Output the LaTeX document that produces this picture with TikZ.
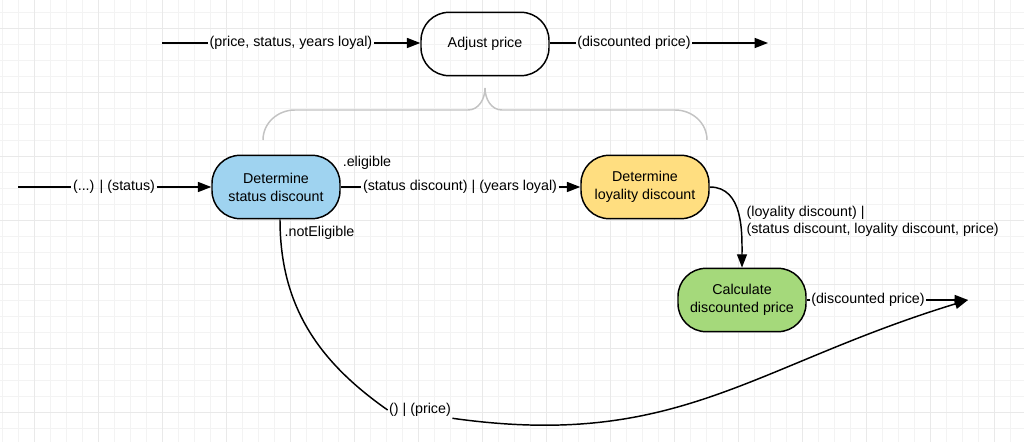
\documentclass[tikz,border=0pt]{standalone}
\usepackage{fontspec}
\setmainfont{Liberation Sans}
\usetikzlibrary{arrows.meta}
\definecolor{statusfill}{HTML}{9FD3F0}
\definecolor{loyalfill}{HTML}{FFDE80}
\definecolor{calcfill}{HTML}{A5D97B}
\definecolor{gridminor}{HTML}{F3F3F3}
\definecolor{gridmajor}{HTML}{E9E9E9}
\definecolor{bracegray}{HTML}{C3C3C3}
\tikzset{
  stepbox/.style={draw, line width=1.1pt, rounded corners=21pt, minimum width=96pt, minimum height=47.5pt, align=center, inner sep=2pt, font=\fontsize{10.7}{13.5}\selectfont},
  flowlabel/.style={inner sep=1pt, font=\fontsize{10.7}{12.8}\selectfont},
  flow/.style={line width=1.1pt},
}
\begin{document}
\begin{tikzpicture}[x=0.75pt,y=0.75pt,>={Triangle[length=10pt,width=7.5pt]}]
	\useasboundingbox (0,0) rectangle (1024,442);
	\fill[white] (0,0) rectangle (1024,442);
	% background grid
	\begin{scope}
		\clip (0,0) rectangle (1024,442);
		\begin{scope}[shift={(34,30)}]
			\draw[gridminor, line width=0.6pt, step=16] (-64,-64) grid (1024,448);
			\draw[gridmajor, line width=0.6pt, step=64] (-64,-64) grid (1024,448);
		\end{scope}
	\end{scope}
	
	% top level
	\node[stepbox] (adjust) at (485,398) {Adjust price};
	\coordinate (topin) at (162,399);
	\node[flowlabel] (toplbl) at (291,399) {(price, status, years loyal)};
	\draw[flow] (topin) -- (toplbl);
	\draw[flow,->] (toplbl) -- (toplbl -| adjust.west);
	\node[flowlabel] (topoutlbl) at (634,399) {(discounted price)};
	\coordinate (topout) at (768,399);
	\draw[flow] (topoutlbl -| adjust.east) -- (topoutlbl);
	\draw[flow,->] (topoutlbl) -- (topout);
	
	% brace
	\draw[bracegray, line width=1.1pt] (263,302) to[out=90,in=180] (295,332) -- (468,332) to[out=0,in=-90] (485,354)
		to[out=-90,in=180] (502,332) -- (675,332) to[out=0,in=90] (707,302);
	
	% steps
	\node[stepbox, fill=statusfill] (status) at (276,255) {Determine\\status discount};
	\node[stepbox, fill=loyalfill] (loyal) at (645,255) {Determine\\loyality discount};
	\node[stepbox, fill=calcfill] (calc) at (742,142) {Calculate\\discounted price};
	
	\coordinate (statusin) at (18,255);
	\node[flowlabel] (statuslbl) at (114,255) {(...) | (status)};
	\draw[flow] (statusin) -- (statuslbl);
	\draw[flow,->] (statuslbl) -- (status);
	\node[flowlabel] (eligible) at (367,279) {.eligible};
	\node[flowlabel] (yearslbl) at (460,255) {(status discount) | (years loyal)};
	\draw[flow] (status) -- (yearslbl);
	\draw[flow,->] (yearslbl) -- (loyal);
	
	\node[flowlabel, align=left, anchor=west] (pricelbl) at (745,221) {(loyality discount) |\\(status discount, loyality discount, price)};
	\draw[flow,->] (loyal.east) to[out=0,in=90] (calc.north);
	\node[flowlabel] (calclbl) at (868,142) {(discounted price)};
	\coordinate (calcout) at (968,142);
	\draw[flow] (calc) -- (calclbl);
	\draw[flow,->] (calclbl) -- (calcout);
	
	% not eligible branch
	\node[flowlabel, anchor=west] (noteligible) at (283,209) {.notEligible};
	\node[flowlabel] (nopricelbl) at (420,32) {() | (price)};
	\draw[flow] ([xshift=3pt]status.south) to[out=-90,in=145] (nopricelbl.west);
	\draw[flow,->] (nopricelbl.south east) to[out=-8,in=197,looseness=1.1] (calcout);
\end{tikzpicture}
\end{document}
